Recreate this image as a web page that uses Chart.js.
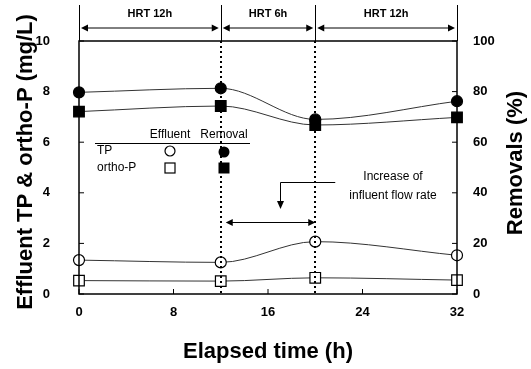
<!DOCTYPE html>
<html><head><meta charset="utf-8">
<script src="https://cdn.jsdelivr.net/npm/chart.js@4.4.1/dist/chart.umd.min.js"></script>
<style>html,body{margin:0;padding:0;background:#fff}#wrap{width:531px;height:369px}</style>
</head><body><div id="wrap"><canvas id="c" width="531" height="369"></canvas></div>
<script>
const elapsedTime = [0, 12, 20, 32];
const tpEffluent = [1.34, 1.25, 2.07, 1.53];
const orthoEffluent = [0.53, 0.51, 0.64, 0.55];
const tpRemoval = [79.7, 81.3, 69.0, 76.2];
const orthoRemoval = [72.1, 74.3, 66.8, 69.8];
const hrtBoundaries = [0, 12, 20, 32];
const hrtLabels = ['HRT 12h', 'HRT 6h', 'HRT 12h'];
const flowChange = [12, 20];
const legendHeader = ['Effluent', 'Removal'];
const legendRows = ['TP', 'ortho-P'];
const noteLines = ['Increase of', 'influent flow rate'];
const leftTitle = 'Effluent TP & ortho-P (mg/L)';
const rightTitle = 'Removals (%)';
const bottomTitle = 'Elapsed time (h)';

const FONT = '"Liberation Sans", Arial, sans-serif';
const pts = (ys) => elapsedTime.map((t, i) => ({x: t, y: ys[i]}));

function arrowHead(ctx, x, y, dir) {
  ctx.beginPath();
  if (dir === 'l') { ctx.moveTo(x, y); ctx.lineTo(x + 7, y - 3.5); ctx.lineTo(x + 7, y + 3.5); }
  else if (dir === 'r') { ctx.moveTo(x, y); ctx.lineTo(x - 7, y - 3.5); ctx.lineTo(x - 7, y + 3.5); }
  else { ctx.moveTo(x, y); ctx.lineTo(x - 3.5, y - 8); ctx.lineTo(x + 3.5, y - 8); }
  ctx.closePath(); ctx.fill();
}

const overlay = {
  id: 'overlay',
  afterDatasetsDraw(chart) {
    const {ctx, chartArea: a, scales: {x, y, y1}} = chart;
    ctx.save();
    ctx.strokeStyle = '#000'; ctx.fillStyle = '#000';
    // frame
    ctx.lineWidth = 1.5;
    ctx.strokeRect(a.left, a.top, a.right - a.left, a.bottom - a.top);
    // inward ticks
    ctx.lineWidth = 1;
    ctx.beginPath();
    y.ticks.forEach(t => { const p = y.getPixelForValue(t.value); ctx.moveTo(a.left, p); ctx.lineTo(a.left + 5, p); });
    y1.ticks.forEach(t => { const p = y1.getPixelForValue(t.value); ctx.moveTo(a.right, p); ctx.lineTo(a.right - 5, p); });
    x.ticks.forEach(t => { const p = x.getPixelForValue(t.value); ctx.moveTo(p, a.bottom); ctx.lineTo(p, a.bottom - 5); });
    ctx.stroke();
    // dotted lines at HRT changes
    ctx.lineWidth = 2; ctx.setLineDash([2, 3]);
    hrtBoundaries.slice(1, -1).forEach(v => {
      const p = Math.round(x.getPixelForValue(v));
      ctx.beginPath(); ctx.moveTo(p, a.top); ctx.lineTo(p, a.bottom); ctx.stroke();
    });
    ctx.setLineDash([]);
    // top HRT annotation
    ctx.lineWidth = 1;
    const topY = 5, arY = 28;
    hrtBoundaries.forEach(v => {
      const p = Math.round(x.getPixelForValue(v)) + 0.5;
      ctx.beginPath(); ctx.moveTo(p, topY); ctx.lineTo(p, a.top); ctx.stroke();
    });
    ctx.font = 'bold 11px ' + FONT; ctx.textAlign = 'center'; ctx.textBaseline = 'middle';
    for (let i = 0; i < hrtLabels.length; i++) {
      const p0 = x.getPixelForValue(hrtBoundaries[i]) + 2, p1 = x.getPixelForValue(hrtBoundaries[i + 1]) - 2;
      ctx.beginPath(); ctx.moveTo(p0 + 3, arY); ctx.lineTo(p1 - 3, arY); ctx.stroke();
      arrowHead(ctx, p0, arY, 'l'); arrowHead(ctx, p1, arY, 'r');
      ctx.fillText(hrtLabels[i], (p0 + p1) / 2, 14);
    }
    // legend table
    ctx.font = '12px ' + FONT;
    const c1 = 170, c2 = 224;
    ctx.textAlign = 'center';
    ctx.fillText(legendHeader[0], c1, 135); ctx.fillText(legendHeader[1], c2, 135);
    ctx.beginPath(); ctx.moveTo(95, 143.5); ctx.lineTo(250, 143.5); ctx.stroke();
    ctx.textAlign = 'left';
    ctx.fillText(legendRows[0], 97, 151); ctx.fillText(legendRows[1], 97, 168);
    ctx.lineWidth = 1.2;
    ctx.beginPath(); ctx.arc(c1, 151, 5, 0, Math.PI * 2); ctx.stroke();
    ctx.beginPath(); ctx.arc(c2, 152, 5.5, 0, Math.PI * 2); ctx.fill();
    ctx.strokeRect(c1 - 5, 163, 10, 10);
    ctx.fillRect(c2 - 5.5, 162.5, 11, 11);
    // flow-rate note
    ctx.lineWidth = 1;
    const xr = x.getPixelForValue(flowChange[1]);
    ctx.beginPath(); ctx.moveTo(xr + 20, 182.5); ctx.lineTo(280.5, 182.5); ctx.lineTo(280.5, 202); ctx.stroke();
    arrowHead(ctx, 280.5, 209, 'd');
    ctx.textAlign = 'center';
    ctx.fillText(noteLines[0], 393, 177); ctx.fillText(noteLines[1], 393, 196);
    const xl = x.getPixelForValue(flowChange[0]) + 5;
    ctx.beginPath(); ctx.moveTo(xl + 3, 222.5); ctx.lineTo(xr - 3, 222.5); ctx.stroke();
    arrowHead(ctx, xl, 222.5, 'l'); arrowHead(ctx, xr, 222.5, 'r');
    // vertical axis titles (both read bottom-to-top)
    ctx.font = 'bold 22px ' + FONT;
    ctx.textAlign = 'center'; ctx.textBaseline = 'middle';
    ctx.save(); ctx.translate(26, 162); ctx.rotate(-Math.PI / 2); ctx.fillText(leftTitle, 0, 0); ctx.restore();
    ctx.save(); ctx.translate(516, 163); ctx.rotate(-Math.PI / 2); ctx.fillText(rightTitle, 0, 0); ctx.restore();
    ctx.restore();
  }
};

const lineCommon = {borderColor: '#333', borderWidth: 1, cubicInterpolationMode: 'monotone', clip: false, pointBorderColor: '#000', pointBorderWidth: 1.2};
new Chart(document.getElementById('c'), {
  type: 'line',
  data: {
    datasets: [
      Object.assign({label: 'TP removal', data: pts(tpRemoval), yAxisID: 'y1', pointStyle: 'circle', pointRadius: 5.5, pointBackgroundColor: '#000'}, lineCommon),
      Object.assign({label: 'ortho-P removal', data: pts(orthoRemoval), yAxisID: 'y1', pointStyle: 'rect', pointRadius: 7.5, pointBackgroundColor: '#000'}, lineCommon),
      Object.assign({label: 'TP effluent', data: pts(tpEffluent), yAxisID: 'y', pointStyle: 'circle', pointRadius: 5.5, pointBackgroundColor: '#fff'}, lineCommon),
      Object.assign({label: 'ortho-P effluent', data: pts(orthoEffluent), yAxisID: 'y', pointStyle: 'rect', pointRadius: 7.5, pointBackgroundColor: '#fff'}, lineCommon)
    ]
  },
  options: {
    responsive: false, animation: false, devicePixelRatio: 1,
    layout: {padding: {top: 41, left: 0, right: 0, bottom: 0}},
    plugins: {legend: {display: false}, tooltip: {enabled: false}},
    scales: {
      x: {
        type: 'linear', min: 0, max: 32,
        grid: {display: false, drawTicks: false}, border: {display: false},
        ticks: {stepSize: 8, color: '#000', font: {family: FONT, size: 13, weight: 'bold'}, padding: 11, maxRotation: 0},
        title: {display: true, text: bottomTitle, color: '#000', font: {family: FONT, size: 22, weight: 'bold'}, padding: {top: 0, bottom: 4}},
        afterFit(s) { s.height = 75; }
      },
      y: {
        position: 'left', min: 0, max: 10,
        grid: {display: false, drawTicks: false}, border: {display: false},
        ticks: {stepSize: 2, color: '#000', font: {family: FONT, size: 13, weight: 'bold'}, padding: 29},
        afterFit(s) { s.width = 79; }
      },
      y1: {
        position: 'right', min: 0, max: 100,
        grid: {display: false, drawTicks: false}, border: {display: false},
        ticks: {stepSize: 20, color: '#000', font: {family: FONT, size: 13, weight: 'bold'}, padding: 16},
        afterFit(s) { s.width = 74; }
      }
    }
  },
  plugins: [overlay]
});
</script>
</body></html>
